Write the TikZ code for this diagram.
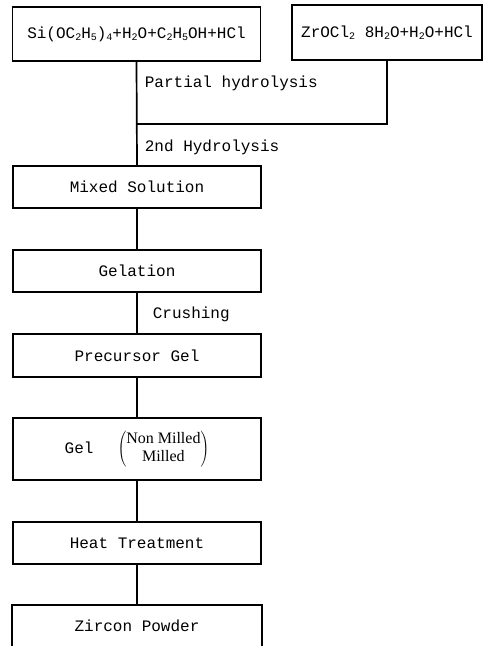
\documentclass[tikz,border=0pt]{standalone}
\usepackage{fontspec}
\setmonofont{Liberation Mono}
\newfontfamily\serifb{Liberation Serif}
\newcommand\lo[1]{\raisebox{-0.25ex}{\fontsize{10}{10}\selectfont #1}}
\begin{document}
\begin{tikzpicture}[x=1pt,y=-1pt,
  line width=1.7pt,
  txt/.style={font=\ttfamily\fontsize{16}{18}\selectfont, inner sep=0pt},
  stepbox/.style={txt, draw, minimum width=248pt, minimum height=42pt},
  lbl/.style={txt, anchor=west}]
\useasboundingbox (0,0) rectangle (487,646);
\node[stepbox, minimum height=54pt] (si) at (136.5,34) {Si(OC\lo{2}H\lo{5})\lo{4}+H\lo{2}O+C\lo{2}H\lo{5}OH+HCl};
\node[stepbox, minimum width=190pt, minimum height=55pt] (zr) at (387,32.5) {ZrOCl\lo{2} 8H\lo{2}O+H\lo{2}O+HCl};
\node[stepbox] (mix) at (137,187) {Mixed Solution};
\node[stepbox] (gelation) at (137,271) {Gelation};
\node[stepbox, minimum height=43pt] (pre) at (137,355.5) {Precursor Gel};
\node[stepbox, minimum height=62pt] (gel) at (137,449) {Gel\hspace{24pt}{\serifb\fontsize{16}{18}\selectfont$\left(\begin{tabular}{@{}c@{}}Non Milled\\Milled\end{tabular}\right)$}};
\node[stepbox] (heat) at (137,543) {Heat Treatment};
\node[txt, minimum width=248pt, minimum height=40pt] (zirc) at (137,626) {Zircon Powder};
\draw (zirc.south west) -- (zirc.north west) -- (zirc.north east) -- (zirc.south east);
\coordinate (join) at (137,124);
\draw (si.south) -- (mix.north);
\draw (zr.south) |- (join);
\draw (mix.south) -- (gelation.north);
\draw (gelation.south) -- (pre.north);
\draw (pre.south) -- (gel.north);
\draw (gel.south) -- (heat.north);
\draw (heat.south) -- (zirc.north);
\node[lbl] (ph) at (144,83) {Partial hydrolysis};
\node[lbl] (sh) at (144,147) {2nd Hydrolysis};
\node[lbl] (cr) at (152,314) {Crushing};
\end{tikzpicture}
\end{document}
